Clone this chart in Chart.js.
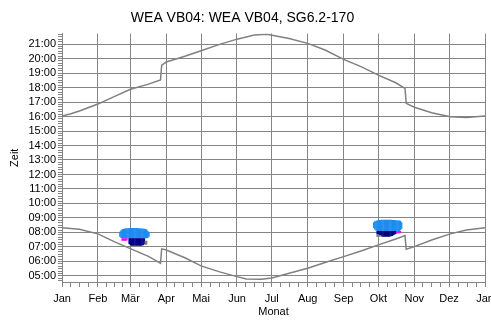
<!DOCTYPE html>
<html>
<head>
<meta charset="utf-8">
<script src="https://cdn.jsdelivr.net/npm/chart.js@4"></script>
<style>
  html, body { margin: 0; padding: 0; background: #fff; }
  #wrap { width: 491px; height: 320px; }
</style>
</head>
<body>
<div id="wrap"><canvas id="c" width="491" height="320"></canvas></div>
<script>
// month start (day of year) and labels
const monthStarts = [0, 31, 59, 90, 120, 151, 181, 212, 243, 273, 304, 334, 365];
const monthLabels = ['Jan', 'Feb', 'Mär', 'Apr', 'Mai', 'Jun', 'Jul', 'Aug', 'Sep', 'Okt', 'Nov', 'Dez', 'Jan'];

// sunrise (lower line), hours
const sunriseDays = [0, 15, 31, 45, 59, 75, 85, 86, 90, 106, 120, 136, 151, 159, 172, 181, 196, 212, 227, 243, 258, 273, 288, 296, 297, 304, 319, 335, 349, 365];
const sunriseTimes = [8.33, 8.22, 7.90, 7.37, 6.88, 6.33, 5.87, 6.87, 6.79, 6.25, 5.69, 5.28, 4.95, 4.79, 4.77, 4.86, 5.19, 5.53, 5.92, 6.33, 6.72, 7.14, 7.55, 7.78, 6.84, 7.02, 7.48, 7.90, 8.17, 8.33];

// sunset (upper line), hours
const sunsetDays = [0, 7, 15, 31, 45, 59, 74, 85, 86, 90, 106, 120, 136, 151, 166, 177, 188, 196, 212, 227, 243, 258, 273, 288, 296, 297, 304, 319, 335, 349, 365];
const sunsetTimes = [16.03, 16.17, 16.38, 16.86, 17.37, 17.88, 18.22, 18.52, 19.55, 19.76, 20.16, 20.54, 20.98, 21.34, 21.62, 21.67, 21.50, 21.39, 21.05, 20.59, 19.94, 19.44, 18.86, 18.33, 17.94, 16.91, 16.64, 16.26, 15.99, 15.94, 16.03];

// shadow flicker windows: [day, start hour, end hour]
const flickerBlue = [
  [50, 7.70, 8.05], [51, 7.62, 8.15], [52, 7.60, 8.22], [53, 7.60, 8.24], [54, 7.60, 8.27],
  [55, 7.60, 8.28], [56, 7.60, 8.29], [57, 7.60, 8.29], [58, 7.60, 8.30], [59, 7.60, 8.30],
  [60, 7.60, 8.30], [61, 7.60, 8.30], [62, 7.60, 8.30], [63, 7.60, 8.30], [64, 7.60, 8.30],
  [65, 7.60, 8.30], [66, 7.60, 8.29], [67, 7.60, 8.29], [68, 7.60, 8.28], [69, 7.60, 8.27],
  [70, 7.60, 8.26], [71, 7.60, 8.25], [72, 7.60, 8.23], [73, 7.60, 8.20], [74, 7.62, 8.12],
  [75, 7.70, 8.00],
  [269, 8.30, 8.70], [270, 8.20, 8.78], [271, 8.12, 8.80], [272, 8.10, 8.82], [273, 8.10, 8.84],
  [274, 8.10, 8.86], [275, 8.10, 8.86], [276, 8.10, 8.87], [277, 8.10, 8.87], [278, 8.10, 8.87],
  [279, 8.10, 8.87], [280, 8.10, 8.87], [281, 8.10, 8.87], [282, 8.10, 8.87], [283, 8.10, 8.87],
  [284, 8.10, 8.87], [285, 8.10, 8.86], [286, 8.10, 8.86], [287, 8.10, 8.86], [288, 8.10, 8.85],
  [289, 8.10, 8.84], [290, 8.10, 8.83], [291, 8.10, 8.82], [292, 8.15, 8.80], [293, 8.25, 8.70]
];
const flickerNavy = [
  [58, 7.20, 7.60], [59, 7.12, 7.60], [60, 7.09, 7.60], [61, 7.09, 7.60], [62, 7.09, 7.60],
  [63, 7.09, 7.60], [64, 7.09, 7.60], [65, 7.09, 7.60], [66, 7.09, 7.60], [67, 7.09, 7.60],
  [68, 7.09, 7.60], [69, 7.10, 7.60], [70, 7.12, 7.60], [71, 7.18, 7.60],
  [272, 7.85, 8.10], [273, 7.85, 8.10], [274, 7.82, 8.10], [275, 7.80, 8.10], [276, 7.72, 8.10],
  [277, 7.71, 8.10], [278, 7.71, 8.10], [279, 7.71, 8.10], [280, 7.71, 8.10], [281, 7.71, 8.10],
  [282, 7.71, 8.10], [283, 7.72, 8.10], [284, 7.74, 8.10], [285, 7.76, 8.10], [286, 7.80, 8.10],
  [287, 7.85, 8.10], [288, 7.90, 8.10]
];
const flickerMagenta = [
  [52, 7.42, 7.60], [53, 7.42, 7.60], [54, 7.42, 7.60], [55, 7.42, 7.60], [56, 7.44, 7.60],
  [289, 7.94, 8.10], [290, 7.94, 8.10], [291, 7.95, 8.10], [292, 7.97, 8.10]
];
const flickerGray = [
  [72, 7.14, 7.42], [73, 7.16, 7.42],
  [272, 7.68, 7.85], [273, 7.68, 7.85], [274, 7.70, 7.82], [275, 7.72, 7.80]
];

const Y_MIN = 4.58, Y_MAX = 21.73;
const GRID = '#858585';
const FONT = 'Liberation Sans, Arial, sans-serif';

// quarter-month minor ticks on x
const xTickValues = [];
for (let i = 0; i < monthStarts.length - 1; i++) {
  const a = monthStarts[i], b = monthStarts[i + 1];
  for (let k = 0; k < 4; k++) xTickValues.push(a + (b - a) * k / 4);
}
xTickValues.push(365);

// 10-minute minor ticks on y
const yTickValues = [];
for (let m = Math.ceil(Y_MIN * 6); m <= Math.floor(Y_MAX * 6); m++) yTickValues.push(m / 6);

const isMonth = v => monthStarts.some(d => Math.abs(d - v) < 1e-6);
const isHour = v => Math.abs(v - Math.round(v)) < 1e-6;

const toXY = (days, vals) => days.map((d, i) => ({ x: d, y: vals[i] }));
const toBars = list => list.map(([d, s, e]) => ({ x: d, y: [s, e] }));

function barSet(list, color) {
  return {
    type: 'bar',
    data: toBars(list),
    backgroundColor: color,
    borderWidth: 0,
    grouped: false,
    barPercentage: 1.4,
    categoryPercentage: 1
  };
}

new Chart(document.getElementById('c'), {
  type: 'line',
  data: {
    datasets: [
      { data: toXY(sunsetDays, sunsetTimes), borderColor: '#808080', borderWidth: 1.5, pointRadius: 0, tension: 0, fill: false },
      { data: toXY(sunriseDays, sunriseTimes), borderColor: '#808080', borderWidth: 1.5, pointRadius: 0, tension: 0, fill: false },
      barSet(flickerMagenta, '#ff00ff'),
      barSet(flickerGray, '#808080'),
      barSet(flickerNavy, '#000080'),
      barSet(flickerBlue, '#1e8cf0')
    ]
  },
  options: {
    responsive: false,
    animation: false,
    layout: { padding: { left: 0, right: 6, top: 0, bottom: 0 } },
    plugins: {
      legend: { display: false },
      tooltip: { enabled: false },
      title: {
        display: true,
        text: 'WEA VB04: WEA VB04, SG6.2-170',
        color: '#000',
        font: { family: FONT, size: 14, weight: 'normal' },
        padding: { top: 10, bottom: 6.7 }
      }
    },
    scales: {
      x: {
        type: 'linear',
        min: 0,
        max: 365,
        offset: false,
        afterBuildTicks: s => { s.ticks = xTickValues.map(v => ({ value: v })); },
        afterFit: s => { s.height = 38; s.paddingLeft = 0; s.paddingRight = 0; },
        grid: {
          offset: false,
          color: c => (c.tick && isMonth(c.tick.value)) ? GRID : 'rgba(0,0,0,0)',
          tickColor: GRID,
          tickLength: 5,
          lineWidth: 1
        },
        border: { color: GRID, width: 1 },
        ticks: {
          autoSkip: false,
          maxRotation: 0,
          padding: 5,
          color: '#000',
          font: { family: FONT, size: 11 },
          callback: v => {
            const i = monthStarts.findIndex(d => Math.abs(d - v) < 1e-6);
            return i >= 0 ? monthLabels[i] : '';
          }
        },
        title: { display: true, text: 'Monat', color: '#000', font: { family: FONT, size: 11 }, padding: { top: 0, bottom: 1 } }
      },
      y: {
        type: 'linear',
        min: Y_MIN,
        max: Y_MAX,
        afterBuildTicks: s => { s.ticks = yTickValues.map(v => ({ value: v })); },
        afterFit: s => { s.width = 62; s.paddingTop = 0; s.paddingBottom = 0; },
        grid: {
          color: c => (c.tick && isHour(c.tick.value)) ? GRID : 'rgba(0,0,0,0)',
          tickColor: GRID,
          tickLength: 4,
          lineWidth: 1
        },
        border: { color: GRID, width: 1 },
        ticks: {
          autoSkip: false,
          padding: 2,
          color: '#000',
          font: { family: FONT, size: 11 },
          callback: v => isHour(v) ? String(Math.round(v)).padStart(2, '0') + ':00' : ''
        },
        title: { display: true, text: 'Zeit', color: '#000', font: { family: FONT, size: 11 }, padding: { top: 8, bottom: 0 } }
      }
    }
  }
});
</script>
</body>
</html>
